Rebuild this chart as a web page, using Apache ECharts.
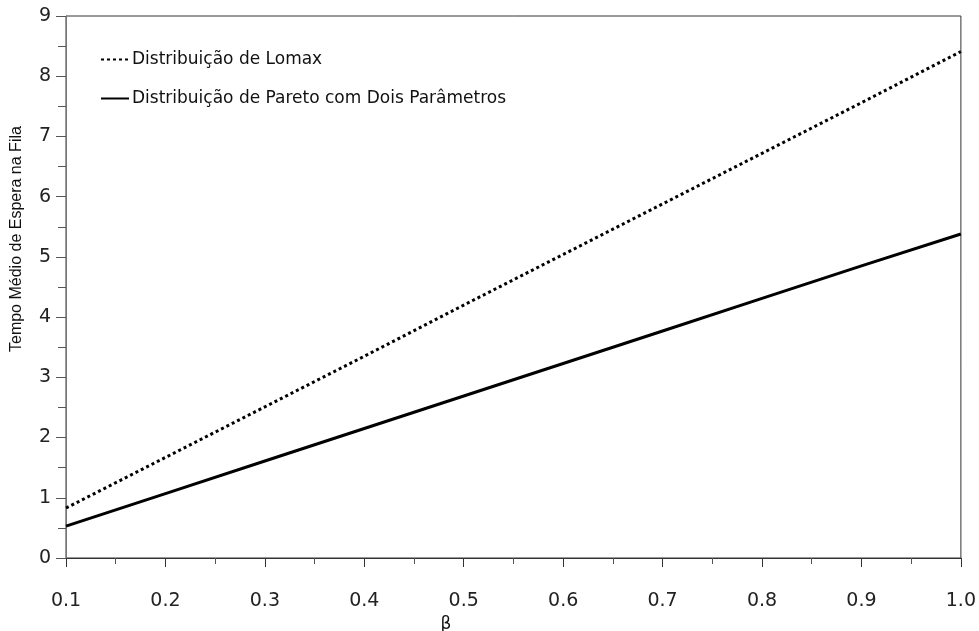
<!DOCTYPE html>
<html>
<head>
<meta charset="utf-8">
<script src="https://cdn.jsdelivr.net/npm/echarts@6/dist/echarts.min.js"></script>
<style>
html,body{margin:0;padding:0;background:#fff;}
#chart{width:979px;height:631px;}
</style>
</head>
<body>
<div id="chart"></div>
<script>
var betaValues = [0.1, 0.2, 0.3, 0.4, 0.5, 0.6, 0.7, 0.8, 0.9, 1.0];
var lomaxValues = [0.83, 1.67, 2.51, 3.35, 4.20, 5.04, 5.88, 6.72, 7.56, 8.41];
var paretoValues = [0.53, 1.07, 1.61, 2.15, 2.69, 3.23, 3.77, 4.31, 4.85, 5.38];
var seriesNames = ['Distribuição de Lomax', 'Distribuição de Pareto com Dois Parâmetros'];
var yAxisTitle = 'Tempo Médio de Espera na Fila';
var xAxisTitle = 'β';

function pairs(xs, ys){ return xs.map(function(x,i){ return [x, ys[i]]; }); }

var chart = echarts.init(document.getElementById('chart'), null, {renderer:'canvas'});
var hFont = 'DejaVu Sans';
chart.setOption({
  animation: false,
  backgroundColor: '#ffffff',
  grid: {left: 66, right: 16, top: 16, bottom: 73, show: true, borderColor: '#333', borderWidth: 1, backgroundColor: 'transparent'},
  legend: {
    orient: 'vertical', left: 95, top: 46, itemWidth: 28, itemHeight: 14, itemGap: 22,
    data: seriesNames,
    itemStyle: {opacity: 0},
    textStyle: {fontFamily: hFont, fontSize: 17, color: '#111', padding: [0,0,0,-2]},
    selectedMode: false
  },
  xAxis: {
    type: 'value', min: 0.1, max: 1.0, interval: 0.1,
    axisLine: {show: true, onZero: false, lineStyle: {color: '#333', width: 1}},
    axisTick: {show: true, inside: false, length: 9, lineStyle: {color: '#333'}},
    minorTick: {show: true, splitNumber: 2, length: 6, lineStyle: {color: '#555'}},
    splitLine: {show: false},
    axisLabel: {fontFamily: hFont, fontSize: 19, color: '#222', margin: 34,
      formatter: function(v){ return v.toFixed(1); }}
  },
  yAxis: {
    type: 'value', min: 0, max: 9, interval: 1,
    axisLine: {show: true, onZero: false, lineStyle: {color: '#777', width: 1}},
    axisTick: {show: true, inside: false, length: 10, lineStyle: {color: '#555'}},
    minorTick: {show: true, splitNumber: 2, length: 8, lineStyle: {color: '#555'}},
    splitLine: {show: false},
    axisLabel: {fontFamily: hFont, fontSize: 19, color: '#222', margin: 15}
  },
  graphic: [
    {type: 'text', rotation: Math.PI/2, x: 9, y: 352,
     style: {text: yAxisTitle, fontFamily: 'Liberation Sans', fontSize: 16, fill: '#111'}},
    {type: 'text', x: 446, y: 625,
     style: {text: xAxisTitle, fontFamily: hFont, fontSize: 17, fill: '#111', textAlign: 'center', textVerticalAlign: 'middle'}}
  ],
  series: [
    {name: seriesNames[0], type: 'line', data: pairs(betaValues, lomaxValues), symbol: 'none', smooth: false,
     lineStyle: {color: '#000', width: 3, type: [3, 3], cap: 'butt'}, itemStyle: {color: '#000'}},
    {name: seriesNames[1], type: 'line', data: pairs(betaValues, paretoValues), symbol: 'none', smooth: false,
     lineStyle: {color: '#000', width: 3, type: 'solid'}, itemStyle: {color: '#000'}}
  ]
});
</script>
</body>
</html>
